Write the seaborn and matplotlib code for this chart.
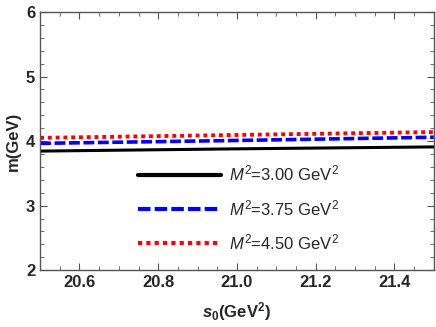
import pandas as pd
import seaborn as sns
import matplotlib.pyplot as plt

# data
s0 = [20.5, 21.0, 21.5]
m_300 = [3.845, 3.88, 3.91]
m_375 = [3.965, 4.01, 4.06]
m_450 = [4.05, 4.095, 4.14]
labels = [r"$M^2$=3.00 GeV$^2$", r"$M^2$=3.75 GeV$^2$", r"$M^2$=4.50 GeV$^2$"]

sns.set_style("ticks")
plt.rcParams['font.family'] = ['Liberation Sans', 'DejaVu Sans']
plt.rcParams['mathtext.fontset'] = 'custom'
plt.rcParams['mathtext.rm'] = 'Liberation Sans'
plt.rcParams['mathtext.it'] = 'Liberation Sans:italic'
plt.rcParams['mathtext.bf'] = 'Liberation Sans:bold'
plt.rcParams['mathtext.bfit'] = 'Liberation Sans:bold:italic'

df = pd.DataFrame({'s0': s0 * 3,
                   'm': m_300 + m_375 + m_450,
                   'M2': [labels[0]] * 3 + [labels[1]] * 3 + [labels[2]] * 3})

fig = plt.figure(figsize=(4.36, 3.27), dpi=100)
ax = fig.add_axes([0.092, 0.174, 0.903, 0.789])

styles = [('black', '-', 2.2), ('#0000ff', (0, (3, 1)), 2.6), ('#ff0000', (0, (1, 1)), 2.8)]
for lab, (col, ls, lw) in zip(labels, styles):
    sub = df[df['M2'] == lab]
    sns.lineplot(x='s0', y='m', data=sub, ax=ax, color=col, linestyle=ls,
                 linewidth=lw, label=lab)

ax.set_xlim(20.5, 21.5)
ax.set_ylim(2, 6)
ax.set_xticks([20.6, 20.8, 21.0, 21.2, 21.4])
ax.set_xticks([20.5 + 0.05 * i for i in range(21)], minor=True)
ax.set_yticks([2, 3, 4, 5, 6])
ax.set_yticks([2 + 0.2 * i for i in range(21)], minor=True)
ax.tick_params(which='both', direction='in', top=True, right=True, color='#555555')
ax.tick_params(which='major', length=5, labelsize=12)
ax.tick_params(which='minor', length=3)
for t in ax.get_xticklabels() + ax.get_yticklabels():
    t.set_fontweight('bold')
for sp in ax.spines.values():
    sp.set_color('#555555')
    sp.set_linewidth(1)

ax.set_xlabel(r"$\mathbfit{s}_\mathbf{0}$(GeV$^\mathbf{2}$)", fontsize=12, fontweight='bold', labelpad=7)
ax.set_ylabel("m(GeV)", fontsize=12, fontweight='bold', labelpad=4)

leg = ax.legend(loc='upper left', bbox_to_anchor=(0.21, 0.47), frameon=False,
                handlelength=5.0, handletextpad=0.45, labelspacing=0.86, fontsize=12)
for h in leg.get_lines():
    h.set_linewidth(3)

plt.savefig("out.png", dpi=100)
